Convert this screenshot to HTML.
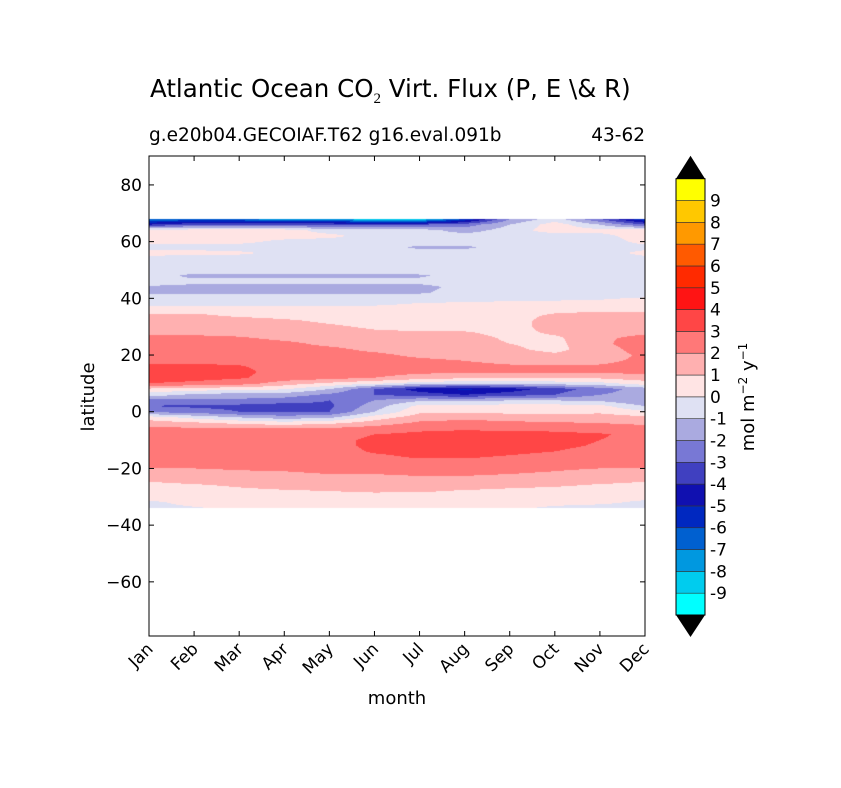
<!DOCTYPE html>
<html><head><meta charset="utf-8">
<style>
body{margin:0;background:#fff;font-family:"DejaVu Sans","Liberation Sans",sans-serif;}
#wrap{position:relative;width:841px;height:788px;overflow:hidden;background:#fff}
.t{position:absolute;white-space:nowrap;color:#000}
</style></head>
<body>
<div id="wrap">
<div class="t" style="left:150px;top:74px;font-size:24.5px">Atlantic Ocean CO<sub style="font-size:15px;font-family:'Liberation Serif',serif">2</sub> Virt. Flux (P, E \&amp; R)</div>
<div class="t" style="left:149px;top:125px;font-size:18.5px">g.e20b04.GECOIAF.T62 g16.eval.091b</div>
<div class="t" style="right:196px;top:125px;font-size:18.5px">43-62</div>
<canvas id="cv" width="496" height="480" style="position:absolute;left:149px;top:156px"></canvas>
<svg id="svg2" width="841" height="788" style="position:absolute;left:0;top:0"></svg>
</div>
<script>
const months=["Jan","Feb","Mar","Apr","May","Jun","Jul","Aug","Sep","Oct","Nov","Dec"];
const yTicks=[80,60,40,20,0,-20,-40,-60];
const levels=[-10,-9,-8,-7,-6,-5,-4,-3,-2,-1,0,1,2,3,4,5,6,7,8,9,10];
const levelColors=["#00ffff","#00ccee","#0098e0","#0060d0","#0028c0","#1010b0","#4040c0","#7878d5","#aaaae0","#dfe1f3","#ffe4e4","#ffb0b0","#ff7878","#ff4646","#ff1414","#ff2a00","#ff5a00","#ff9900","#ffc800","#ffff00"];
const lats=[68,66,64,62,60,58,56,54,52,50,48,46,44,42,40,38,36,34,32,30,28,26,24,22,20,18,16,14,12,10,8,6,4,2,0,-2,-4,-6,-8,-10,-12,-14,-16,-18,-20,-22,-24,-26,-28,-30,-32,-34];
const flux=[
[-7,-7,-7,-8,-8,-9,-9,-6,-2,-0.5,-3,-6],
[-4,-3,-3,-3,-3,-3,-3,-2.5,-1,0.5,-1,-3],
[0.5,0.5,0.5,0.5,-0.5,-0.5,-0.5,-1.5,-0.5,0.5,0.3,0.5],
[0.5,0.5,0.5,0.5,0.3,-0.5,-0.5,-0.5,-0.5,-0.5,-0.3,0.5],
[0.3,0.3,0.3,-0.3,-0.5,-0.5,-0.5,-0.5,-0.5,-0.5,-0.5,0.3],
[-0.3,-0.3,-0.5,-0.5,-0.5,-0.5,-1.2,-1.2,-0.5,-0.5,-0.5,-0.3],
[0.3,0.3,0.2,-0.3,-0.5,-0.5,-0.5,-0.5,-0.5,-0.5,-0.5,0.3],
[-0.3,-0.5,-0.5,-0.5,-0.5,-0.5,-0.5,-0.5,-0.5,-0.5,-0.5,-0.3],
[-0.5,-0.5,-0.5,-0.5,-0.5,-0.5,-0.5,-0.5,-0.5,-0.5,-0.5,-0.5],
[-0.5,-0.6,-0.6,-0.6,-0.6,-0.6,-0.6,-0.5,-0.5,-0.5,-0.5,-0.5],
[-0.6,-1.2,-1.2,-1.2,-1.2,-1.2,-1.1,-0.7,-0.5,-0.5,-0.5,-0.5],
[-0.6,-0.8,-0.8,-0.8,-0.8,-0.8,-0.8,-0.6,-0.5,-0.5,-0.5,-0.5],
[-1.1,-1.2,-1.2,-1.2,-1.2,-1.2,-1.2,-0.8,-0.5,-0.5,-0.5,-0.5],
[-1.1,-1.2,-1.2,-1.2,-1.2,-1.2,-1.1,-0.7,-0.5,-0.5,-0.5,-0.5],
[-0.5,-0.5,-0.5,-0.5,-0.5,-0.5,-0.5,-0.4,-0.3,-0.2,-0.1,0.1],
[-0.3,-0.3,-0.3,-0.3,-0.2,-0.2,0.1,0.2,0.3,0.3,0.3,0.4],
[0.5,0.5,0.5,0.5,0.5,0.5,0.5,0.5,0.5,0.6,0.8,0.7],
[1.2,1.2,0.8,0.6,0.5,0.5,0.5,0.5,0.5,1.2,1.4,1.3],
[1.5,1.5,1.5,1.2,0.8,0.5,0.5,0.5,0.5,1.5,1.5,1.5],
[1.6,1.6,1.6,1.5,1.2,0.8,0.6,0.5,0.5,1.5,1.6,1.6],
[1.8,1.8,1.7,1.6,1.5,1.2,1.1,1.1,0.6,1.2,1.6,1.8],
[2.3,2.2,2.1,1.8,1.6,1.5,1.5,1.5,0.8,0.8,1.8,2.3],
[2.5,2.5,2.4,2.2,1.8,1.6,1.5,1.5,1.0,0.7,1.8,2.5],
[2.6,2.6,2.5,2.3,2.2,1.8,1.6,1.6,1.2,0.7,1.6,2.4],
[2.8,2.7,2.6,2.5,2.3,2.2,1.8,1.6,1.5,1.2,1.5,2.2],
[2.9,2.9,2.8,2.6,2.5,2.4,2.2,2.0,1.8,1.6,1.8,2.2],
[3.1,3.1,3.05,2.7,2.6,2.5,2.3,2.2,2.1,2.1,2.1,2.3],
[3.4,3.3,3.2,2.7,2.6,2.5,2.2,2.2,2.1,2.1,2.1,2.3],
[3.4,3.3,3.1,2.6,2.4,2.0,1.5,1.2,1.0,1.0,1.2,1.6],
[3.0,2.8,2.5,1.5,0.8,0.2,-0.5,-0.8,-0.8,-0.5,-0.3,0.5],
[0.8,0.5,0.3,0.1,-1.0,-3.0,-4.5,-5.2,-4.5,-3.5,-2.5,-1.5],
[-0.5,-1.2,-1.5,-1.5,-2.2,-3.0,-3.5,-4,-3.5,-3,-2,-1.5],
[-2.5,-2.2,-2.2,-2.5,-3,-2,-1.2,-1.2,-1,-1,-1.2,-2],
[-3,-3.2,-3.3,-3.5,-3.2,-1.5,0.3,0.4,0.4,0.4,0.3,-1],
[-2.2,-2.5,-3,-3.2,-3,-1,0.8,0.8,0.7,0.6,0.8,0.2],
[0.5,-0.3,-1,-1.5,-1.2,0.5,1.5,1.8,1.6,1.5,1.5,1.2],
[1.5,1.2,0.8,0.5,0.8,1.5,2.2,2.3,2.2,2.1,2.0,1.8],
[2.2,2.2,2.1,2.1,2.2,2.5,2.8,2.9,2.8,2.8,2.6,2.4],
[2.5,2.5,2.5,2.5,2.6,3.0,3.2,3.3,3.3,3.2,3.1,2.7],
[2.6,2.6,2.6,2.6,2.7,3.2,3.4,3.4,3.4,3.3,3.0,2.7],
[2.6,2.6,2.6,2.6,2.7,3.2,3.4,3.4,3.3,3.2,2.9,2.7],
[2.5,2.5,2.5,2.5,2.6,3.1,3.3,3.3,3.2,3.0,2.7,2.6],
[2.4,2.4,2.4,2.4,2.5,2.8,3.1,3.1,2.9,2.7,2.5,2.4],
[2.2,2.2,2.3,2.3,2.4,2.5,2.6,2.6,2.5,2.4,2.3,2.2],
[2.0,2.0,2.1,2.1,2.2,2.2,2.3,2.3,2.2,2.1,2.0,2.0],
[1.5,1.6,1.8,1.9,2.0,2.0,2.1,2.1,2.0,1.9,1.7,1.5],
[1.1,1.3,1.5,1.6,1.7,1.7,1.8,1.8,1.6,1.5,1.3,1.1],
[0.8,0.9,1.1,1.3,1.4,1.5,1.5,1.4,1.2,1.1,0.9,0.8],
[0.6,0.6,0.8,0.9,1.0,1.1,1.1,0.9,0.8,0.7,0.6,0.5],
[0.4,0.5,0.5,0.6,0.6,0.7,0.6,0.6,0.5,0.5,0.4,0.3],
[-0.2,0.3,0.4,0.4,0.4,0.4,0.4,0.4,0.4,0.3,0.2,-0.2],
[-0.3,-0.1,0.2,0.2,0.2,0.1,0.1,0.1,0.2,-0.2,-0.4,-0.5]
];
const X0=149,X1=645,Y0=156,Y1=636;
const yMax=90.2,yMin=-79.1;
function xs(m){return X0+m*(X1-X0)/11;}
function ys(l){return Y0+(yMax-l)*(Y1-Y0)/(yMax-yMin);}
function colorFor(v){let i=Math.floor(v)-levels[0];i=Math.max(0,Math.min(levelColors.length-1,i));return levelColors[i];}
const FONT='DejaVu Sans, Liberation Sans, sans-serif';
(function drawField(){
  const cv=document.getElementById('cv');const ctx=cv.getContext('2d');
  const fTop=Math.round(ys(lats[0])),fBot=Math.round(ys(lats[lats.length-1]));
  for(let py=fTop;py<fBot;py++){
    const lat=yMax-(py+0.5-Y0)*(yMax-yMin)/(Y1-Y0);
    let r=0;while(r<lats.length-2&&lats[r+1]>lat)r++;
    let fy=(lats[r]-lat)/(lats[r]-lats[r+1]);fy=Math.max(0,Math.min(1,fy));
    for(let px=X0;px<X1;px++){
      const m=(px+0.5-X0)*11/(X1-X0);
      let c=Math.min(10,Math.floor(m));let fx=m-c;
      const a=flux[r][c]*(1-fx)+flux[r][c+1]*fx;
      const b=flux[r+1][c]*(1-fx)+flux[r+1][c+1]*fx;
      const v=a*(1-fy)+b*fy;
      ctx.fillStyle=colorFor(v);ctx.fillRect(px-X0,py-Y0,1,1);
    }
  }
})();
const NS='http://www.w3.org/2000/svg';
const s2=document.getElementById('svg2');
function mk(tag,at){const e=document.createElementNS(NS,tag);for(const k in at)e.setAttribute(k,at[k]);s2.appendChild(e);return e;}
const frame=mk('rect',{x:X0,y:Y0,width:X1-X0,height:Y1-Y0,fill:'none',stroke:'#000','stroke-width':1});


yTicks.forEach(v=>{
  const y=ys(v);
  const t1=mk('line',{x1:X0,x2:X0+5,y1:y,y2:y,stroke:'#000'});
  
  
  mk('line',{x1:X1-5,x2:X1,y1:y,y2:y,stroke:'#000'});
  const tx=mk('text',{x:X0-7,y:y+6,'text-anchor':'end','font-size':17,'font-family':FONT});
  tx.textContent=v<0?'\u2212'+(-v):String(v);
  
  
});
months.forEach((m,i)=>{
  const x=xs(i);
  const t1=mk('line',{x1:x,x2:x,y1:Y1,y2:Y1-5,stroke:'#000'});
  
  
  mk('line',{x1:x,x2:x,y1:Y0,y2:Y0+5,stroke:'#000'});
  const tx=mk('text',{x:x+5,y:Y1+14,'text-anchor':'end','font-size':17,'font-family':FONT,transform:'rotate(-45 '+(x+5)+' '+(Y1+14)+')'});
  tx.textContent=m;
  
  
});
const xl=mk('text',{x:397,y:704,'text-anchor':'middle','font-size':18,'font-family':FONT});
xl.textContent='month';


const yl=mk('text',{x:94,y:397,'text-anchor':'middle','font-size':18,'font-family':FONT,transform:'rotate(-90 94 397)'});
yl.textContent='latitude';


const CX=676,CW=29,CT=178.7,CB=615;const bh=(CB-CT)/levelColors.length;
levelColors.forEach((c,i)=>{
  const y=CB-(i+1)*bh;
  const r=mk('rect',{x:CX,y:y,width:CW,height:bh,fill:c,stroke:'#333','stroke-width':0.6});
  
  
});
const up=mk('polygon',{points:`${CX},${CT} ${CX+CW},${CT} ${CX+CW/2},${CT-23}`,fill:'#000'});


const dn=mk('polygon',{points:`${CX},${CB} ${CX+CW},${CB} ${CX+CW/2},${CB+22}`,fill:'#000'});


mk('rect',{x:CX,y:CT,width:CW,height:CB-CT,fill:'none',stroke:'#000'});
levels.slice(1,-1).forEach((v,i)=>{
  const y=CB-(i+1)*bh;
  const tx=mk('text',{x:CX+CW+5,y:y+6,'font-size':17,'font-family':FONT});
  tx.textContent=String(v);
  
  
});
const cl=mk('text',{x:754,y:397,'text-anchor':'middle','font-size':18,'font-family':FONT,transform:'rotate(-90 754 397)'});
cl.innerHTML='mol m<tspan dy="-7" font-size="12">\u22122</tspan><tspan dy="7">  y</tspan><tspan dy="-7" font-size="12">\u22121</tspan>';


</script>
</body></html>
